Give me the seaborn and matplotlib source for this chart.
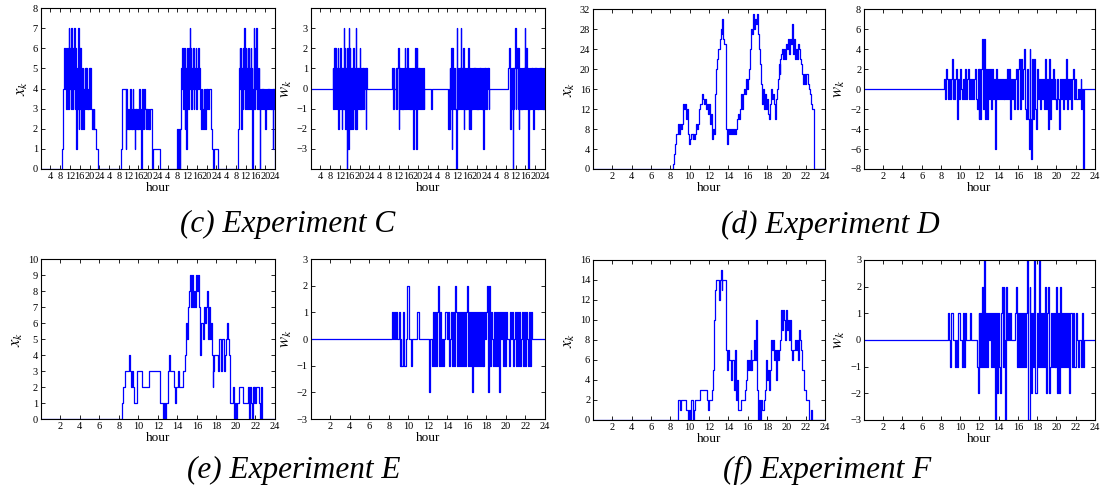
import numpy as np
import pandas as pd
import seaborn as sns
import matplotlib.pyplot as plt

# ---- Experiment C: four days, 0.25 h resolution, one list per busy stretch ----
c_step = 0.25
c_x_starts = [8.75, 33.0, 55.75, 81.0]
c_x_day1 = [1, 2, 4, 5, 6, 4, 6, 3, 6, 5, 3, 7, 4, 6, 3, 7, 5, 3, 6, 4, 7, 3, 6, 1, 5, 3, 7, 2, 6, 3,
            6, 2, 5, 3, 5, 2, 4, 3, 5, 3, 5, 3, 4, 3, 5, 3, 5, 3, 3, 2, 3, 2, 3, 2, 2, 1, 1, 1, 1]
c_x_day2 = [1, 4, 4, 4, 4, 4, 4, 1, 4, 2, 3, 2, 3, 2, 3, 4, 2, 3, 2, 4, 3, 2, 1, 3, 2, 3, 2, 3, 2, 4,
            3, 2, 3, 0, 4, 2, 3, 2, 4, 3, 2, 3, 2, 3, 2, 3, 2, 3, 3, 3, 3, 0, 1, 1, 1, 1, 1, 1, 1, 1,
            1, 1, 1, 1]
c_x_day3 = [2, 2, 0, 2, 2, 0, 2, 5, 4, 6, 5, 3, 6, 2, 5, 1, 6, 4, 6, 3, 6, 7, 4, 6, 3, 5, 4, 6, 3, 5,
            4, 6, 3, 5, 4, 6, 4, 5, 3, 4, 2, 4, 3, 2, 4, 3, 4, 2, 4, 3, 4, 4, 3, 4, 4, 4, 2, 2, 1, 1,
            0, 1, 1, 1, 1, 1, 1, 1]
c_x_day4 = [2, 5, 6, 4, 6, 2, 5, 3, 6, 4, 7, 3, 6, 5, 3, 6, 4, 6, 3, 5, 6, 3, 5, 0, 4, 7, 3, 6, 4, 7,
            3, 5, 3, 5, 4, 0, 3, 4, 3, 4, 3, 4, 3, 4, 2, 4, 3, 4, 3, 4, 3, 4, 3, 4, 3, 4, 1, 4, 3, 4]

c_w_starts = [9.0, 33.5, 56.25, 81.0]
c_w_day1 = [1, -1, 2, -1, 2, -1, 1, -1, 2, -2, 1, -1, 2, -1, 1, -2, 1, -1, 3, -1, 2, -2, 1, -4, 2, -3,
            3, -1, 2, -2, 1, -2, 1, -2, 2, -1, 1, -2, 3, -2, 1, -1, 1, -1, 2, -1, 1, -1, 1, -1, 1, -1,
            0, 1, -2, 1, 0]
c_w_day2 = [1, -1, 1, 0, 0, -1, 1, -1, 1, 2, -2, 1, -1, 1, -1, 1, -1, 1, -1, 1, 2, -1, 1, -1, 2, -1,
            1, -1, 1, -1, 1, -1, 1, -1, -3, 1, -1, 2, 1, -3, 2, -1, 1, -1, 1, -1, 1, 0, 1, -1, 1, -1,
            0, 0, 0, 0, 0, 0, 0, 0, 0, 0, 0, -1, 0]
c_w_day3 = [-2, 0, -2, 1, -1, 2, -3, 2, -1, 1, -1, 1, -1, -4, 3, -1, 1, -1, 1, -1, 1, 3, -1, 1, -1, 2,
            -2, 1, -1, 1, -1, 1, -1, 2, -2, 1, -2, 1, -1, 1, -1, 1, -1, 1, -1, 1, -1, 1, -1, 1, -1,
            1, -1, 1, -1, 1, -1, 1, -3, 1, -1, 1, 0, -1, 1, 0, 1, -1, 0]
c_w_day4 = [1, 2, -1, -2, 1, -1, 1, -4, 1, -1, 1, 3, -1, 1, 2, -1, 2, -2, 1, -1, 1, -1, 1, -1, 1, -1,
            1, 3, -1, 2, -1, 1, -4, 1, -1, 1, -1, 1, -1, 1, -1, -2, 1, -1, 1, -1, 1, -1, 1, -1, 1, -1,
            1, -1, 1, -1, 1, -1, 1, -1]

# ---- Experiments D, E, F: one day, 0.1 h resolution ----
d_step = 0.1
d_x_start = 8.3
d_x = [1, 3, 5, 7, 7, 9, 7, 9, 8, 9, 13, 12, 13, 10, 12, 7, 5, 6, 7, 7, 6, 7, 6, 7, 9, 8, 9, 12, 13, 13,
       15, 14, 13, 14, 12, 13, 11, 13, 9, 11, 6, 8, 7, 15, 20, 22, 24, 24, 26, 28, 27, 30, 26, 25, 25, 8,
       5, 8, 7, 8, 7, 8, 7, 8, 7, 8, 10, 11, 10, 12, 15, 12, 15, 16, 15, 18, 16, 18, 20, 24, 26, 28, 27,
       31, 28, 30, 29, 31, 27, 24, 21, 17, 13, 16, 12, 15, 12, 14, 11, 10, 13, 16, 14, 15, 13, 10, 14,
       16, 18, 21, 19, 22, 23, 24, 22, 24, 22, 25, 24, 26, 23, 26, 25, 29, 23, 26, 22, 24, 22, 25, 24,
       22, 21, 19, 17, 19, 17, 19, 19, 17, 16, 16, 15, 13, 12, 12, 0]
d_w_start = 8.3
d_w = [1, -1, 2, 1, -1, 1, -1, 1, 3, -1, 1, -1, 1, 2, -3, 1, -1, 2, 0, -1, 1, -1, 2, -1, 1, 2, -1, 1,
       -1, 1, -1, 1, 2, -1, -2, 2, -3, 2, -3, 2, 5, -2, 5, -3, 2, -3, 2, -1, 2, -2, 2, -1, 1, -6, 2, -1,
       1, -1, 1, -1, 1, -1, 1, -1, 1, -1, 2, -1, 2, -3, 1, -1, 1, -2, 1, 2, -2, 2, 3, -2, 3, -1, 2, 4,
       -2, -3, 2, -3, -6, 4, -3, -7, 3, -3, 3, -2, -4, 2, -1, 1, -2, 1, -1, 1, -2, 3, -2, 1, -4, 3, -3,
       1, -1, 2, -1, 1, -1, -2, 1, -1, -4, 1, -1, 1, -2, 1, -1, 3, -2, 1, -1, 1, -2, 1, 2, -1, 1, -1,
       -1, 0, -1, 0, 1, -2, 0, -8, 0]

e_x_start = 8.3
e_x = [1, 2, 2, 3, 3, 3, 3, 4, 3, 3, 2, 3, 2, 1, 1, 1, 3, 3, 3, 3, 3, 2, 2, 2, 2, 2, 2, 2, 3, 3, 3, 3,
       3, 3, 3, 3, 3, 3, 3, 1, 1, 1, 0, 1, 0, 1, 1, 3, 4, 3, 3, 3, 3, 3, 2, 1, 2, 2, 3, 2, 2, 2, 2, 3,
       3, 4, 6, 5, 7, 8, 9, 7, 9, 7, 8, 7, 9, 8, 9, 7, 4, 6, 6, 5, 7, 6, 7, 8, 5, 7, 5, 6, 4, 2, 3, 4,
       4, 4, 4, 3, 5, 5, 3, 5, 5, 3, 4, 5, 6, 5, 4, 1, 1, 1, 2, 0, 1, 0, 1, 1, 2, 2, 2, 2, 1, 1, 1, 1,
       1, 2, 0, 2, 1, 0, 2, 1, 2, 1, 2, 2, 2, 1, 0, 2, 0]
e_w_start = 8.3
e_w = [1, 0, 1, 0, 1, 0, 0, 1, -1, 0, -1, -1, 1, -1, -1, 0, 2, 2, 0, 0, -1, 0, 0, 0, 0, 0, 1, 1, 0, 0,
       0, 0, 0, 0, 0, 0, 0, 0, -2, 0, 0, -1, 1, -1, 1, -1, 1, 2, -1, 1, -1, 0, 0, -1, 0, 1, 1, 0, 1,
       -1, 0, 1, -1, 1, -1, 2, 1, -1, 1, -1, 1, -1, 1, -1, 1, -1, 1, 2, -1, 1, -1, 1, -2, 1, -1, 1, -1,
       1, -1, 1, -1, 1, -1, 1, -1, 1, 0, 1, 2, -2, 2, -1, 1, 0, -1, 1, -1, 1, -1, 1, -2, 1, 0, 1, -1,
       1, -1, 1, 0, 0, -1, 1, 0, 1, -1, 0, 1, -1, 1, -1, 1, -1, 0, 1, -1, 0, 1, -1, 1, 0, -1, 1, -1,
       1, 0]

f_x_start = 8.8
f_x = [2, 2, 1, 2, 2, 2, 2, 2, 1, 1, 0, 1, 0, 2, 2, 2, 0, 1, 2, 2, 2, 2, 2, 3, 3, 3, 3, 3, 3, 3, 2, 1,
       2, 2, 2, 3, 5, 10, 13, 14, 14, 14, 12, 14, 15, 13, 14, 14, 14, 14, 7, 5, 7, 6, 6, 4, 6, 6, 3, 7,
       2, 4, 1, 1, 1, 2, 2, 2, 2, 3, 4, 6, 5, 6, 5, 7, 5, 6, 6, 8, 6, 10, 3, 0, 2, 0, 2, 1, 1, 2, 3, 6,
       4, 5, 3, 5, 8, 7, 8, 6, 7, 4, 7, 6, 7, 7, 8, 11, 9, 11, 10, 8, 11, 9, 10, 8, 10, 7, 6, 7, 7, 8,
       7, 8, 6, 9, 8, 7, 5, 5, 3, 3, 2, 2, 2, 2, 0, 0, 1, 0]
f_w_start = 8.7
f_w = [1, 0, -1, 1, 1, 0, 0, 0, -1, 0, -1, 1, 1, 0, 0, -1, 1, -1, 1, 0, 0, 0, 0, 1, 0, 0, 0, 0, 0, 0,
       -1, -2, 1, -1, 1, -1, 2, -1, 3, -1, 1, -1, 1, 0, 1, -1, 1, -1, 1, -3, 1, -2, 1, -1, -2, 1, 2,
       -1, 2, 0, -3, 2, 0, 1, 0, 1, 0, 0, 0, 0, 1, 2, -1, 1, -1, 1, -1, 1, -1, 1, -1, 1, 3, -3, -3, 2,
       1, -2, 1, -1, 3, -2, -2, 1, -1, 3, -1, 1, -1, 1, -1, 2, -2, 1, 2, -2, -1, 1, -1, 1, -1, 1, -1,
       2, -2, 1, -2, 2, -1, 1, -1, 1, -1, 1, -1, 1, -2, 1, 1, -1, 1, -1, -1, 1, 0, -1, 0, 0, 0, -1, 1,
       -1]

captions = ['(c) Experiment C', '(d) Experiment D', '(e) Experiment E', '(f) Experiment F']


def build(starts, step, chunks, t_end):
    # step series: zero outside the listed stretches
    t, v = [0.0], [0]
    for s, vals in zip(starts, chunks):
        t += [s + i * step for i in range(len(vals))]
        v += list(vals)
        t.append(s + len(vals) * step)
        v.append(0)
    t.append(t_end)
    v.append(0)
    return pd.DataFrame({'hour': t, 'value': v})


sns.set_style('ticks')
plt.rcParams['font.family'] = ['Liberation Serif', 'DejaVu Serif']
plt.rcParams['mathtext.fontset'] = 'stix'
plt.rcParams['text.color'] = 'black'
plt.rcParams['axes.labelcolor'] = 'black'

fig = plt.figure(figsize=(11.03, 4.94), dpi=100)

panels = [
    # data, rect, xmax, ylim, yticks, ylabel
    (build(c_x_starts, c_step, [c_x_day1, c_x_day2, c_x_day3, c_x_day4], 96),
     [0.0369, 0.6579, 0.2124, 0.3259], 96, (0, 8), range(0, 9), '$x_k$'),
    (build(c_w_starts, c_step, [c_w_day1, c_w_day2, c_w_day3, c_w_day4], 96),
     [0.2817, 0.6579, 0.2124, 0.3259], 96, (-4, 4), range(-3, 4), '$w_k$'),
    (build([d_x_start], d_step, [d_x], 24),
     [0.5376, 0.6579, 0.2103, 0.3233], 24, (0, 32), range(0, 33, 4), '$x_k$'),
    (build([d_w_start], d_step, [d_w], 24),
     [0.7833, 0.6579, 0.2094, 0.3233], 24, (-8, 8), range(-8, 9, 2), '$w_k$'),
    (build([e_x_start], d_step, [e_x], 24),
     [0.0369, 0.1518, 0.2124, 0.3239], 24, (0, 10), range(0, 11), '$x_k$'),
    (build([e_w_start], d_step, [e_w], 24),
     [0.2817, 0.1518, 0.2124, 0.3239], 24, (-3, 3), range(-3, 4), '$w_k$'),
    (build([f_x_start], d_step, [f_x], 24),
     [0.5376, 0.1498, 0.2103, 0.3239], 24, (0, 16), range(0, 17, 2), '$x_k$'),
    (build([f_w_start], d_step, [f_w], 24),
     [0.7833, 0.1498, 0.2094, 0.3239], 24, (-3, 3), range(-3, 4), '$w_k$'),
]

for df, rect, xmax, ylim, yticks, ylab in panels:
    ax = fig.add_axes(rect)
    sns.lineplot(data=df, x='hour', y='value', ax=ax, drawstyle='steps-post',
                 color='#0000ff', lw=0.9, estimator=None, sort=False)
    ax.set_xlim(0, xmax)
    ax.set_ylim(*ylim)
    ax.set_yticks(list(yticks))
    if xmax == 96:
        xt = list(range(4, 97, 4))
        ax.set_xticks(xt)
        ax.set_xticklabels([str((h - 1) % 24 + 1) for h in xt])
    else:
        ax.set_xticks(list(range(2, 25, 2)))
    ax.tick_params(direction='in', top=True, right=True, length=3, width=0.6,
                   labelsize=7.5, pad=2, colors='black')
    ax.set_xlabel('hour', fontsize=9.5, labelpad=1)
    ax.set_ylabel(ylab, fontsize=12, labelpad=2)
    for sp in ax.spines.values():
        sp.set_linewidth(0.8)
        sp.set_color('black')

cap_pos = [(0.261, 0.545), (0.753, 0.545), (0.266, 0.047), (0.750, 0.047)]
for (cx, cy), txt in zip(cap_pos, captions):
    fig.text(cx, cy, txt, ha='center', va='center', fontsize=22.5, fontstyle='italic')

fig.savefig('out.png', dpi=100)
